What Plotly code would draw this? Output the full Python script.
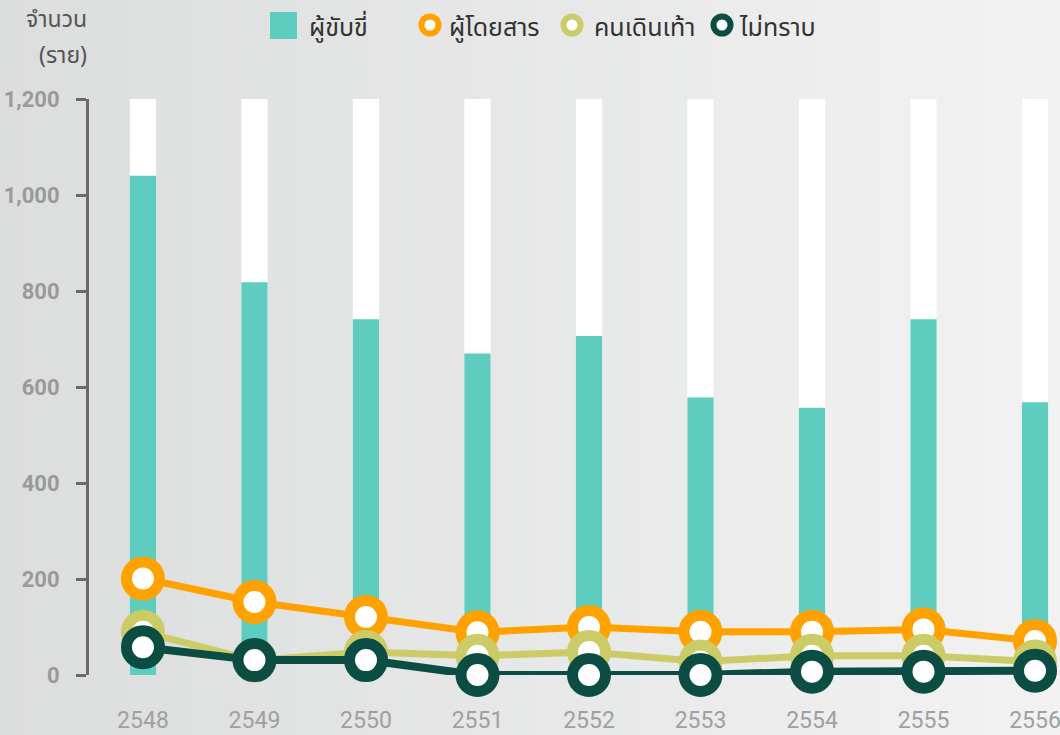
import plotly.graph_objects as go

# Thai Buddhist-era years
years = [2548, 2549, 2550, 2551, 2552, 2553, 2554, 2555, 2556]

# number of cases (ราย)
drivers = [1040, 818, 741, 670, 706, 578, 557, 741, 568]      # ผู้ขับขี่
passengers = [201, 152, 121, 89, 100, 90, 90, 95, 71]         # ผู้โดยสาร
pedestrians = [90, 30, 48, 40, 48, 28, 40, 40, 28]            # คนเดินเท้า
unknown = [58, 31, 31, 0, 0, 0, 7, 7, 9]                      # ไม่ทราบ

y_max = 1200
y_ticks = [0, 200, 400, 600, 800, 1000, 1200]

TEAL = '#5ecdbf'
ORANGE = '#ffa200'
OLIVE = '#cbcb68'
DARK = '#0b4d42'
NUM_FONT = "Liberation Sans Narrow, Roboto, sans-serif"
THAI_FONT = "Noto Sans Thai, Noto Sans, DejaVu Sans, sans-serif"

fig = go.Figure()

# white "track" behind every bar up to the axis max
fig.add_trace(go.Bar(x=years, y=[y_max] * len(years), width=0.235,
                     marker=dict(color='white', line=dict(width=0)),
                     hoverinfo='skip', showlegend=False))
fig.add_trace(go.Bar(x=years, y=drivers, width=0.235, name='ผู้ขับขี่',
                     marker=dict(color=TEAL, line=dict(width=0)), showlegend=False))

for vals, color, name, lw in [(passengers, ORANGE, 'ผู้โดยสาร', 7),
                               (pedestrians, OLIVE, 'คนเดินเท้า', 7),
                               (unknown, DARK, 'ไม่ทราบ', 8)]:
    fig.add_trace(go.Scatter(
        x=years, y=vals, mode='lines+markers', name=name,
        line=dict(color=color, width=lw),
        marker=dict(size=33, color='white', line=dict(color=color, width=11)),
        cliponaxis=False, showlegend=False
    ))

# plot area in pixels: x 89..1060, y 99..675
W, H = 1060, 735
L, R, T, B = 89, 0, 99, 60
pw, ph = W - L - R, H - T - B


def px(x):
    return (x - L) / pw


def py(y):
    return (H - B - y) / ph


shapes = []
annotations = []

# soft grey background gradient, darker on the left
n_strips = 40
c0, c1 = (220, 221, 221), (241, 242, 241)
for i in range(n_strips):
    t = i / (n_strips - 1)
    col = tuple(round(a + (b - a) * t) for a, b in zip(c0, c1))
    shapes.append(dict(type='rect', xref='paper', yref='paper', layer='below',
                       x0=px(W * i / n_strips), x1=px(W * (i + 1) / n_strips + 1),
                       y0=py(H), y1=py(0),
                       fillcolor=f'rgb{col}', line=dict(width=0)))

# hand-drawn legend so the symbols can be as large as the original
shapes.append(dict(type='rect', xref='paper', yref='paper',
                   x0=px(270), x1=px(297), y0=py(39), y1=py(12),
                   fillcolor=TEAL, line=dict(width=0)))
legend_items = [
    (307, 'ผู้ขับขี่', None),
    (447, 'ผู้โดยสาร', (430, ORANGE)),
    (592, 'คนเดินเท้า', (572, OLIVE)),
    (737, 'ไม่ทราบ', (722, DARK)),
]
for tx, label, circ in legend_items:
    if circ:
        cx, col = circ
        shapes.append(dict(type='circle', xref='paper', yref='paper',
                           x0=px(cx - 8.5), x1=px(cx + 8.5),
                           y0=py(25 + 8.5), y1=py(25 - 8.5),
                           fillcolor='white', line=dict(color=col, width=6)))
    annotations.append(dict(text=label, xref='paper', yref='paper',
                            x=px(tx), y=py(28), xanchor='left', yanchor='middle',
                            showarrow=False,
                            font=dict(family=THAI_FONT, size=25, color='#333333')))

# y axis title
annotations.append(dict(text='จำนวน', xref='paper', yref='paper',
                        x=px(89), y=py(20), xanchor='right', yanchor='middle',
                        showarrow=False, font=dict(family=THAI_FONT, size=23, color='#555555')))
annotations.append(dict(text='(ราย)', xref='paper', yref='paper',
                        x=px(89), y=py(56), xanchor='right', yanchor='middle',
                        showarrow=False, font=dict(family=THAI_FONT, size=23, color='#555555')))

fig.update_layout(
    width=W, height=H,
    margin=dict(l=L, r=R, t=T, b=B, autoexpand=False),
    barmode='overlay',
    paper_bgcolor='#e9eaea',
    plot_bgcolor='rgba(0,0,0,0)',
    showlegend=False,
    shapes=shapes,
    annotations=annotations,
    xaxis=dict(
        range=[years[0] - 0.484, years[-1] + 0.224],
        tickvals=years, ticktext=[str(y) for y in years],
        showgrid=False, zeroline=False, showline=False, automargin=False,
        ticks='outside', ticklen=24, tickcolor='rgba(0,0,0,0)',
        ticklabeloverflow='allow',
        tickfont=dict(family=NUM_FONT, size=23, color='#a0a0a0'),
    ),
    yaxis=dict(
        range=[0, y_max], tickvals=y_ticks,
        ticktext=[f"{v:,}" for v in y_ticks],
        showgrid=False, zeroline=False, automargin=False,
        showline=True, linecolor='#6b6b6b', linewidth=3,
        ticks='outside', ticklen=10, tickwidth=3, tickcolor='#6b6b6b',
        tickfont=dict(family=NUM_FONT, size=22, color='#9a9a9a', weight='bold'),
        ticklabelstandoff=12
    ),
)

fig.write_html("out.html", config={'displayModeBar': False},
               post_script="document.body.style.margin='0';document.body.style.overflow='hidden';")
